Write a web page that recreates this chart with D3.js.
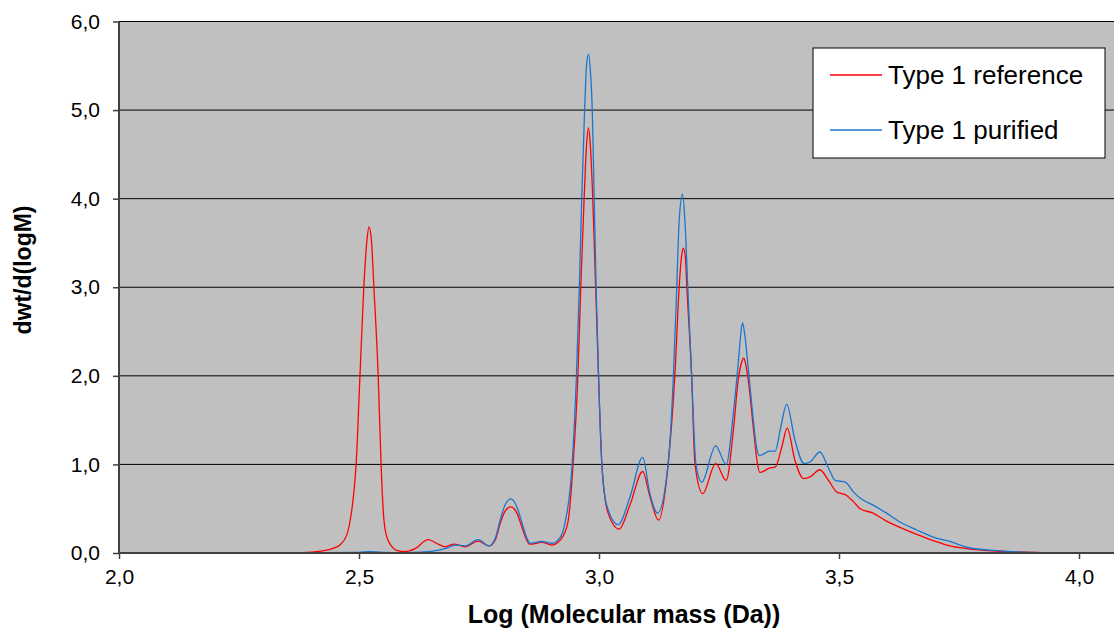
<!DOCTYPE html>
<html>
<head>
<meta charset="utf-8">
<script src="https://cdn.jsdelivr.net/npm/d3@7"></script>
<style>
  body { margin: 0; background: #fff; }
  svg { display: block; font-family: Arial, "Liberation Sans", sans-serif; }
</style>
</head>
<body>
<svg id="chart" width="1114" height="629"></svg>
<script>
// [log M, dwt/d(logM)]
const referencePoints = [
  [2.28, 0], [2.38, 0.005], [2.42, 0.02], [2.45, 0.06], [2.46, 0.09], [2.475, 0.21],
  [2.481, 0.35], [2.488, 0.62], [2.494, 1.0], [2.502, 2.0], [2.510, 3.0], [2.516, 3.5],
  [2.521, 3.68], [2.526, 3.52], [2.531, 3.0], [2.540, 2.0], [2.546, 1.0], [2.552, 0.37],
  [2.560, 0.15], [2.579, 0.03], [2.596, 0.015], [2.617, 0.05], [2.644, 0.15], [2.665, 0.1],
  [2.679, 0.07], [2.698, 0.10], [2.721, 0.07], [2.748, 0.135], [2.771, 0.08], [2.784, 0.15],
  [2.794, 0.33], [2.804, 0.47], [2.816, 0.52], [2.829, 0.45], [2.839, 0.30], [2.849, 0.15],
  [2.856, 0.10], [2.881, 0.12], [2.902, 0.09], [2.92, 0.15], [2.935, 0.34], [2.946, 1.0],
  [2.956, 2.0], [2.962, 3.0], [2.969, 4.0], [2.974, 4.6], [2.978, 4.80], [2.982, 4.6],
  [2.987, 4.0], [2.993, 3.0], [2.999, 2.0], [3.006, 1.0], [3.019, 0.45], [3.042, 0.27],
  [3.065, 0.55], [3.091, 0.92], [3.106, 0.64], [3.124, 0.37], [3.144, 1.0], [3.158, 2.0],
  [3.167, 3.0], [3.172, 3.35], [3.176, 3.44], [3.180, 3.33], [3.183, 3.0], [3.193, 2.0],
  [3.200, 1.0], [3.216, 0.67], [3.243, 1.01], [3.265, 0.82], [3.280, 1.39], [3.290, 1.95],
  [3.297, 2.15], [3.301, 2.20], [3.305, 2.15], [3.311, 1.95], [3.322, 1.39], [3.330, 1.01],
  [3.335, 0.91], [3.356, 0.96], [3.367, 0.97], [3.381, 1.20], [3.392, 1.41], [3.408, 1.05],
  [3.426, 0.84], [3.440, 0.86], [3.460, 0.94], [3.478, 0.82], [3.495, 0.69], [3.516, 0.65],
  [3.530, 0.58], [3.544, 0.50], [3.571, 0.45], [3.599, 0.36], [3.627, 0.29], [3.662, 0.21],
  [3.696, 0.14], [3.731, 0.08], [3.766, 0.05], [3.835, 0.02], [3.919, 0.005], [4.0, 0],
  [4.08, 0]
];

const purifiedPoints = [
  [2.27, 0], [2.40, 0.003], [2.50, 0.008], [2.52, 0.015], [2.55, 0.008], [2.60, 0.005],
  [2.63, 0.01], [2.654, 0.02], [2.683, 0.055], [2.700, 0.09], [2.721, 0.08], [2.748, 0.15],
  [2.771, 0.08], [2.784, 0.17], [2.794, 0.37], [2.804, 0.54], [2.816, 0.61], [2.829, 0.52],
  [2.839, 0.35], [2.849, 0.18], [2.856, 0.11], [2.881, 0.13], [2.902, 0.11], [2.917, 0.16],
  [2.929, 0.335], [2.944, 1.0], [2.953, 2.0], [2.959, 3.0], [2.964, 4.0], [2.970, 5.0],
  [2.974, 5.5], [2.978, 5.63], [2.982, 5.45], [2.986, 5.0], [2.990, 4.0], [2.994, 3.0],
  [2.999, 2.0], [3.006, 1.0], [3.016, 0.54], [3.040, 0.32], [3.065, 0.64], [3.091, 1.08],
  [3.106, 0.67], [3.122, 0.45], [3.144, 1.0], [3.155, 2.0], [3.162, 3.0], [3.167, 3.75],
  [3.174, 4.05], [3.179, 3.75], [3.185, 3.0], [3.193, 2.0], [3.202, 1.0], [3.214, 0.80],
  [3.243, 1.21], [3.265, 1.0], [3.280, 1.58], [3.290, 2.14], [3.295, 2.45], [3.299, 2.60],
  [3.304, 2.45], [3.310, 2.14], [3.320, 1.58], [3.328, 1.20], [3.334, 1.10], [3.356, 1.15],
  [3.367, 1.15], [3.379, 1.43], [3.391, 1.68], [3.408, 1.28], [3.427, 1.01], [3.440, 1.03],
  [3.460, 1.14], [3.478, 0.96], [3.492, 0.82], [3.513, 0.80], [3.530, 0.69], [3.544, 0.62],
  [3.571, 0.54], [3.599, 0.45], [3.627, 0.35], [3.662, 0.26], [3.696, 0.18], [3.731, 0.13],
  [3.766, 0.065], [3.835, 0.025], [3.883, 0.01], [3.95, 0.002], [4.0, 0]
];

const seriesNames = ['Type 1 reference', 'Type 1 purified'];
const seriesColors = ['#ff0000', '#1a75cf'];
const xTicks = [2.0, 2.5, 3.0, 3.5, 4.0];
const yTicks = [0, 1, 2, 3, 4, 5, 6];

const plot = { left: 119, right: 1114, top: 21.5, bottom: 553 };
const fontFamily = 'Arial, "Liberation Sans", sans-serif';
const fmt = d => d3.format('.1f')(d).replace('.', ',');

const svg = d3.select('#chart');

const x = d3.scaleLinear()
  .domain([2.0, 4.0])
  .range([plot.left, plot.left + 960]);
const y = d3.scaleLinear()
  .domain([0, 6])
  .range([plot.bottom, plot.top]);

// plot background
svg.append('rect')
  .attr('x', plot.left)
  .attr('y', plot.top)
  .attr('width', plot.right - plot.left)
  .attr('height', plot.bottom - plot.top)
  .style('fill', '#c0c0c0');

// horizontal grid
svg.append('g')
  .selectAll('line')
  .data(yTicks.filter(t => t > 0))
  .enter().append('line')
  .attr('x1', plot.left)
  .attr('x2', plot.right)
  .attr('y1', d => y(d))
  .attr('y2', d => y(d))
  .style('stroke', '#000')
  .style('stroke-width', 1);

svg.append('clipPath')
  .attr('id', 'plot-clip')
  .append('rect')
  .attr('x', plot.left)
  .attr('y', plot.top)
  .attr('width', plot.right - plot.left)
  .attr('height', plot.bottom - plot.top);

const line = d3.line()
  .x(d => x(d[0]))
  .y(d => y(d[1]))
  .curve(d3.curveMonotoneX);

const curves = svg.append('g').attr('clip-path', 'url(#plot-clip)');
[referencePoints, purifiedPoints].forEach((pts, i) => {
  curves.append('path')
    .datum(pts)
    .attr('d', line)
    .style('fill', 'none')
    .style('stroke', seriesColors[i])
    .style('stroke-width', 1.3);
});

// y axis
const leftAxis = d3.axisLeft(y)
  .tickValues(yTicks)
  .tickFormat(fmt)
  .tickSize(6)
  .tickPadding(13);
const gy = svg.append('g')
  .attr('transform', `translate(${plot.left},0)`)
  .call(leftAxis);
gy.attr('font-family', fontFamily).attr('font-size', 21);
gy.select('.domain').remove();
gy.selectAll('.tick line').style('stroke', '#404040').style('stroke-width', 1.5);
gy.selectAll('.tick text').style('fill', '#000').style('font-size', '21px');

// x axis
const bottomAxis = d3.axisBottom(x)
  .tickValues(xTicks)
  .tickFormat(fmt)
  .tickSize(6)
  .tickPadding(10);
const gx = svg.append('g')
  .attr('transform', `translate(0,${plot.bottom})`)
  .call(bottomAxis);
gx.attr('font-family', fontFamily).attr('font-size', 21);
gx.select('.domain').remove();
gx.selectAll('.tick line').style('stroke', '#404040').style('stroke-width', 1.5);
gx.selectAll('.tick text').style('fill', '#000').style('font-size', '21px');

// axis lines
svg.append('line')
  .attr('x1', plot.left).attr('x2', plot.left)
  .attr('y1', plot.top).attr('y2', plot.bottom + 1)
  .style('stroke', '#404040').style('stroke-width', 2);
svg.append('line')
  .attr('x1', plot.left).attr('x2', plot.right)
  .attr('y1', plot.bottom).attr('y2', plot.bottom)
  .style('stroke', '#404040').style('stroke-width', 2);

// axis titles
svg.append('text')
  .attr('x', 624)
  .attr('y', 623)
  .attr('text-anchor', 'middle')
  .style('font-size', '25px')
  .style('font-weight', 'bold')
  .text('Log (Molecular mass (Da))');

svg.append('text')
  .attr('transform', 'translate(31,270) rotate(-90)')
  .attr('text-anchor', 'middle')
  .style('font-size', '23px')
  .style('font-weight', 'bold')
  .text('dwt/d(logM)');

// legend
const legend = svg.append('g').attr('transform', 'translate(813,48)');
legend.append('rect')
  .attr('width', 292)
  .attr('height', 110)
  .style('fill', '#fff')
  .style('stroke', '#000')
  .style('stroke-width', 1);
seriesNames.forEach((name, i) => {
  const ly = 27 + i * 55;
  legend.append('line')
    .attr('x1', 17).attr('x2', 69)
    .attr('y1', ly).attr('y2', ly)
    .style('stroke', seriesColors[i])
    .style('stroke-width', 1.3);
  legend.append('text')
    .attr('x', 75)
    .attr('y', ly + 9)
    .style('font-size', '26px')
    .text(name);
});
</script>
</body>
</html>
